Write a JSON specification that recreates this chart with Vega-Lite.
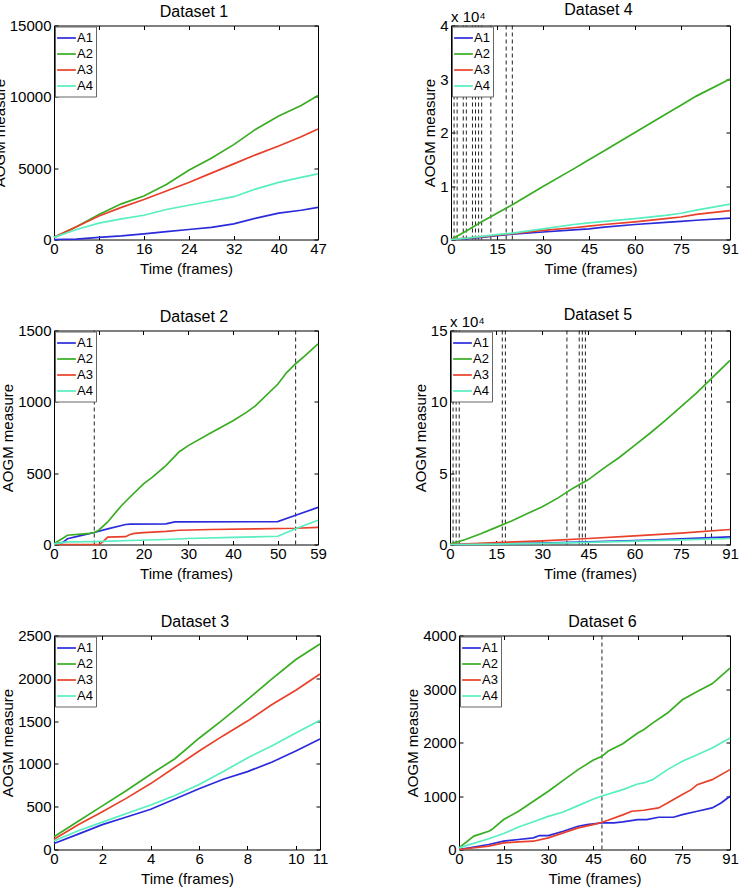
{
  "$schema": "https://vega.github.io/schema/vega-lite/v6.json",
  "padding": {"left": -8, "top": 1.5, "right": 0, "bottom": 0},
  "background": "white",
  "datasets": {
    "d1": [
      {"t":0,"v":0,"s":"A1"},{"t":4,"v":30,"s":"A1"},{"t":8,"v":150,"s":"A1"},{"t":12,"v":250,"s":"A1"},{"t":16,"v":400,"s":"A1"},{"t":20,"v":550,"s":"A1"},{"t":24,"v":700,"s":"A1"},{"t":28,"v":850,"s":"A1"},{"t":32,"v":1100,"s":"A1"},{"t":36,"v":1500,"s":"A1"},{"t":40,"v":1850,"s":"A1"},{"t":44,"v":2050,"s":"A1"},{"t":47,"v":2250,"s":"A1"},
      {"t":0,"v":150,"s":"A2"},{"t":4,"v":900,"s":"A2"},{"t":8,"v":1750,"s":"A2"},{"t":12,"v":2500,"s":"A2"},{"t":16,"v":3050,"s":"A2"},{"t":20,"v":3850,"s":"A2"},{"t":24,"v":4850,"s":"A2"},{"t":28,"v":5700,"s":"A2"},{"t":32,"v":6650,"s":"A2"},{"t":36,"v":7750,"s":"A2"},{"t":40,"v":8650,"s":"A2"},{"t":44,"v":9400,"s":"A2"},{"t":47,"v":10100,"s":"A2"},
      {"t":0,"v":150,"s":"A3"},{"t":4,"v":900,"s":"A3"},{"t":8,"v":1650,"s":"A3"},{"t":12,"v":2250,"s":"A3"},{"t":16,"v":2800,"s":"A3"},{"t":20,"v":3400,"s":"A3"},{"t":24,"v":4000,"s":"A3"},{"t":28,"v":4650,"s":"A3"},{"t":32,"v":5300,"s":"A3"},{"t":36,"v":5950,"s":"A3"},{"t":40,"v":6550,"s":"A3"},{"t":44,"v":7200,"s":"A3"},{"t":47,"v":7750,"s":"A3"},
      {"t":0,"v":150,"s":"A4"},{"t":4,"v":700,"s":"A4"},{"t":8,"v":1150,"s":"A4"},{"t":12,"v":1450,"s":"A4"},{"t":16,"v":1700,"s":"A4"},{"t":20,"v":2100,"s":"A4"},{"t":24,"v":2400,"s":"A4"},{"t":28,"v":2700,"s":"A4"},{"t":32,"v":3000,"s":"A4"},{"t":36,"v":3550,"s":"A4"},{"t":40,"v":4000,"s":"A4"},{"t":44,"v":4350,"s":"A4"},{"t":47,"v":4600,"s":"A4"}
    ],
    "d4": [
      {"t":0,"v":0,"s":"A1"},{"t":5,"v":150,"s":"A1"},{"t":10,"v":400,"s":"A1"},{"t":15,"v":700,"s":"A1"},{"t":20,"v":1000,"s":"A1"},{"t":30,"v":1400,"s":"A1"},{"t":40,"v":1800,"s":"A1"},{"t":45,"v":2000,"s":"A1"},{"t":50,"v":2300,"s":"A1"},{"t":60,"v":2800,"s":"A1"},{"t":70,"v":3200,"s":"A1"},{"t":75,"v":3400,"s":"A1"},{"t":80,"v":3600,"s":"A1"},{"t":91,"v":4000,"s":"A1"},
      {"t":0,"v":0,"s":"A2"},{"t":5,"v":1600,"s":"A2"},{"t":10,"v":3300,"s":"A2"},{"t":15,"v":4900,"s":"A2"},{"t":20,"v":6500,"s":"A2"},{"t":30,"v":9900,"s":"A2"},{"t":40,"v":13200,"s":"A2"},{"t":45,"v":14900,"s":"A2"},{"t":50,"v":16600,"s":"A2"},{"t":60,"v":20000,"s":"A2"},{"t":70,"v":23400,"s":"A2"},{"t":75,"v":25100,"s":"A2"},{"t":80,"v":26800,"s":"A2"},{"t":91,"v":30000,"s":"A2"},
      {"t":0,"v":0,"s":"A3"},{"t":5,"v":250,"s":"A3"},{"t":10,"v":500,"s":"A3"},{"t":15,"v":800,"s":"A3"},{"t":20,"v":1100,"s":"A3"},{"t":30,"v":1700,"s":"A3"},{"t":40,"v":2200,"s":"A3"},{"t":45,"v":2500,"s":"A3"},{"t":50,"v":2800,"s":"A3"},{"t":60,"v":3300,"s":"A3"},{"t":70,"v":3900,"s":"A3"},{"t":75,"v":4200,"s":"A3"},{"t":80,"v":4700,"s":"A3"},{"t":91,"v":5400,"s":"A3"},
      {"t":0,"v":0,"s":"A4"},{"t":5,"v":250,"s":"A4"},{"t":10,"v":600,"s":"A4"},{"t":15,"v":900,"s":"A4"},{"t":20,"v":1200,"s":"A4"},{"t":30,"v":2000,"s":"A4"},{"t":40,"v":2800,"s":"A4"},{"t":45,"v":3100,"s":"A4"},{"t":50,"v":3400,"s":"A4"},{"t":60,"v":3900,"s":"A4"},{"t":70,"v":4500,"s":"A4"},{"t":75,"v":4900,"s":"A4"},{"t":80,"v":5500,"s":"A4"},{"t":91,"v":6600,"s":"A4"}
    ],
    "r4": [{"t":1},{"t":2},{"t":4},{"t":5},{"t":7},{"t":8},{"t":9},{"t":10},{"t":13},{"t":18},{"t":20}],
    "d2": [
      {"t":0,"v":5,"s":"A1"},{"t":2,"v":15,"s":"A1"},{"t":3,"v":40,"s":"A1"},{"t":5,"v":55,"s":"A1"},{"t":9,"v":84,"s":"A1"},{"t":12,"v":110,"s":"A1"},{"t":16,"v":140,"s":"A1"},{"t":17,"v":143,"s":"A1"},{"t":25,"v":145,"s":"A1"},{"t":27,"v":158,"s":"A1"},{"t":50,"v":160,"s":"A1"},{"t":54,"v":205,"s":"A1"},{"t":59,"v":260,"s":"A1"},
      {"t":0,"v":5,"s":"A2"},{"t":3,"v":65,"s":"A2"},{"t":8,"v":78,"s":"A2"},{"t":9,"v":84,"s":"A2"},{"t":10,"v":100,"s":"A2"},{"t":12,"v":158,"s":"A2"},{"t":15,"v":270,"s":"A2"},{"t":17,"v":333,"s":"A2"},{"t":20,"v":425,"s":"A2"},{"t":22,"v":472,"s":"A2"},{"t":25,"v":553,"s":"A2"},{"t":28,"v":650,"s":"A2"},{"t":30,"v":693,"s":"A2"},{"t":35,"v":781,"s":"A2"},{"t":40,"v":867,"s":"A2"},{"t":43,"v":926,"s":"A2"},{"t":45,"v":972,"s":"A2"},{"t":50,"v":1123,"s":"A2"},{"t":52,"v":1205,"s":"A2"},{"t":54,"v":1267,"s":"A2"},{"t":56,"v":1321,"s":"A2"},{"t":59,"v":1407,"s":"A2"},
      {"t":0,"v":5,"s":"A3"},{"t":2,"v":0,"s":"A3"},{"t":10,"v":0,"s":"A3"},{"t":11,"v":20,"s":"A3"},{"t":12,"v":52,"s":"A3"},{"t":16,"v":55,"s":"A3"},{"t":17,"v":70,"s":"A3"},{"t":18,"v":78,"s":"A3"},{"t":20,"v":83,"s":"A3"},{"t":25,"v":92,"s":"A3"},{"t":28,"v":100,"s":"A3"},{"t":35,"v":105,"s":"A3"},{"t":45,"v":110,"s":"A3"},{"t":54,"v":114,"s":"A3"},{"t":59,"v":120,"s":"A3"},
      {"t":0,"v":5,"s":"A4"},{"t":3,"v":18,"s":"A4"},{"t":9,"v":20,"s":"A4"},{"t":17,"v":28,"s":"A4"},{"t":25,"v":35,"s":"A4"},{"t":30,"v":42,"s":"A4"},{"t":40,"v":50,"s":"A4"},{"t":50,"v":58,"s":"A4"},{"t":54,"v":110,"s":"A4"},{"t":59,"v":170,"s":"A4"}
    ],
    "r2": [{"t":9},{"t":54}],
    "d5": [
      {"t":0,"v":0,"s":"A1"},{"t":15,"v":400,"s":"A1"},{"t":30,"v":1000,"s":"A1"},{"t":45,"v":1800,"s":"A1"},{"t":60,"v":2800,"s":"A1"},{"t":75,"v":3900,"s":"A1"},{"t":91,"v":5300,"s":"A1"},
      {"t":0,"v":300,"s":"A2"},{"t":5,"v":3500,"s":"A2"},{"t":10,"v":7500,"s":"A2"},{"t":15,"v":12000,"s":"A2"},{"t":20,"v":16500,"s":"A2"},{"t":25,"v":21500,"s":"A2"},{"t":30,"v":26500,"s":"A2"},{"t":35,"v":32500,"s":"A2"},{"t":40,"v":39500,"s":"A2"},{"t":45,"v":45500,"s":"A2"},{"t":50,"v":53500,"s":"A2"},{"t":55,"v":61000,"s":"A2"},{"t":60,"v":69500,"s":"A2"},{"t":65,"v":78000,"s":"A2"},{"t":70,"v":87000,"s":"A2"},{"t":75,"v":96500,"s":"A2"},{"t":80,"v":106000,"s":"A2"},{"t":85,"v":116500,"s":"A2"},{"t":91,"v":129000,"s":"A2"},
      {"t":0,"v":0,"s":"A3"},{"t":15,"v":1300,"s":"A3"},{"t":30,"v":2600,"s":"A3"},{"t":45,"v":4200,"s":"A3"},{"t":60,"v":6000,"s":"A3"},{"t":75,"v":8000,"s":"A3"},{"t":91,"v":10500,"s":"A3"},
      {"t":0,"v":0,"s":"A4"},{"t":15,"v":300,"s":"A4"},{"t":30,"v":800,"s":"A4"},{"t":45,"v":1500,"s":"A4"},{"t":60,"v":2300,"s":"A4"},{"t":75,"v":3200,"s":"A4"},{"t":91,"v":4200,"s":"A4"}
    ],
    "r5": [{"t":1},{"t":2},{"t":3},{"t":17},{"t":18},{"t":38},{"t":42},{"t":43},{"t":44},{"t":83},{"t":85}],
    "d3": [
      {"t":0,"v":70,"s":"A1"},{"t":1,"v":180,"s":"A1"},{"t":2,"v":290,"s":"A1"},{"t":3,"v":380,"s":"A1"},{"t":4,"v":470,"s":"A1"},{"t":5,"v":590,"s":"A1"},{"t":6,"v":710,"s":"A1"},{"t":7,"v":820,"s":"A1"},{"t":8,"v":910,"s":"A1"},{"t":9,"v":1020,"s":"A1"},{"t":10,"v":1150,"s":"A1"},{"t":11,"v":1290,"s":"A1"},
      {"t":0,"v":150,"s":"A2"},{"t":1,"v":330,"s":"A2"},{"t":2,"v":510,"s":"A2"},{"t":3,"v":690,"s":"A2"},{"t":4,"v":880,"s":"A2"},{"t":5,"v":1060,"s":"A2"},{"t":6,"v":1300,"s":"A2"},{"t":7,"v":1520,"s":"A2"},{"t":8,"v":1750,"s":"A2"},{"t":9,"v":1990,"s":"A2"},{"t":10,"v":2220,"s":"A2"},{"t":11,"v":2400,"s":"A2"},
      {"t":0,"v":120,"s":"A3"},{"t":1,"v":290,"s":"A3"},{"t":2,"v":440,"s":"A3"},{"t":3,"v":600,"s":"A3"},{"t":4,"v":770,"s":"A3"},{"t":5,"v":960,"s":"A3"},{"t":6,"v":1150,"s":"A3"},{"t":7,"v":1330,"s":"A3"},{"t":8,"v":1500,"s":"A3"},{"t":9,"v":1690,"s":"A3"},{"t":10,"v":1860,"s":"A3"},{"t":11,"v":2050,"s":"A3"},
      {"t":0,"v":100,"s":"A4"},{"t":1,"v":220,"s":"A4"},{"t":2,"v":320,"s":"A4"},{"t":3,"v":420,"s":"A4"},{"t":4,"v":520,"s":"A4"},{"t":5,"v":630,"s":"A4"},{"t":6,"v":760,"s":"A4"},{"t":7,"v":910,"s":"A4"},{"t":8,"v":1070,"s":"A4"},{"t":9,"v":1210,"s":"A4"},{"t":10,"v":1360,"s":"A4"},{"t":11,"v":1510,"s":"A4"}
    ],
    "d6": [
      {"t":0,"v":0,"s":"A1"},{"t":10,"v":93,"s":"A1"},{"t":15,"v":155,"s":"A1"},{"t":20,"v":187,"s":"A1"},{"t":25,"v":218,"s":"A1"},{"t":27,"v":261,"s":"A1"},{"t":30,"v":261,"s":"A1"},{"t":35,"v":342,"s":"A1"},{"t":40,"v":435,"s":"A1"},{"t":43,"v":466,"s":"A1"},{"t":48,"v":497,"s":"A1"},{"t":52,"v":497,"s":"A1"},{"t":55,"v":516,"s":"A1"},{"t":60,"v":560,"s":"A1"},{"t":63,"v":560,"s":"A1"},{"t":67,"v":603,"s":"A1"},{"t":72,"v":603,"s":"A1"},{"t":75,"v":653,"s":"A1"},{"t":80,"v":715,"s":"A1"},{"t":85,"v":777,"s":"A1"},{"t":88,"v":870,"s":"A1"},{"t":91,"v":995,"s":"A1"},
      {"t":0,"v":30,"s":"A2"},{"t":5,"v":250,"s":"A2"},{"t":10,"v":342,"s":"A2"},{"t":11,"v":373,"s":"A2"},{"t":15,"v":560,"s":"A2"},{"t":20,"v":715,"s":"A2"},{"t":25,"v":902,"s":"A2"},{"t":30,"v":1088,"s":"A2"},{"t":35,"v":1293,"s":"A2"},{"t":40,"v":1493,"s":"A2"},{"t":45,"v":1667,"s":"A2"},{"t":48,"v":1741,"s":"A2"},{"t":50,"v":1835,"s":"A2"},{"t":55,"v":1978,"s":"A2"},{"t":60,"v":2177,"s":"A2"},{"t":62,"v":2239,"s":"A2"},{"t":65,"v":2363,"s":"A2"},{"t":70,"v":2550,"s":"A2"},{"t":75,"v":2799,"s":"A2"},{"t":80,"v":2954,"s":"A2"},{"t":85,"v":3097,"s":"A2"},{"t":91,"v":3389,"s":"A2"},
      {"t":0,"v":0,"s":"A3"},{"t":10,"v":62,"s":"A3"},{"t":15,"v":124,"s":"A3"},{"t":20,"v":143,"s":"A3"},{"t":25,"v":155,"s":"A3"},{"t":30,"v":218,"s":"A3"},{"t":35,"v":311,"s":"A3"},{"t":40,"v":404,"s":"A3"},{"t":45,"v":466,"s":"A3"},{"t":48,"v":510,"s":"A3"},{"t":50,"v":547,"s":"A3"},{"t":55,"v":647,"s":"A3"},{"t":58,"v":715,"s":"A3"},{"t":62,"v":734,"s":"A3"},{"t":67,"v":777,"s":"A3"},{"t":70,"v":870,"s":"A3"},{"t":75,"v":1026,"s":"A3"},{"t":78,"v":1119,"s":"A3"},{"t":80,"v":1212,"s":"A3"},{"t":85,"v":1306,"s":"A3"},{"t":91,"v":1493,"s":"A3"},
      {"t":0,"v":30,"s":"A4"},{"t":10,"v":200,"s":"A4"},{"t":15,"v":300,"s":"A4"},{"t":20,"v":420,"s":"A4"},{"t":25,"v":520,"s":"A4"},{"t":30,"v":620,"s":"A4"},{"t":35,"v":700,"s":"A4"},{"t":40,"v":820,"s":"A4"},{"t":45,"v":940,"s":"A4"},{"t":48,"v":1000,"s":"A4"},{"t":55,"v":1119,"s":"A4"},{"t":60,"v":1225,"s":"A4"},{"t":62,"v":1244,"s":"A4"},{"t":65,"v":1306,"s":"A4"},{"t":70,"v":1493,"s":"A4"},{"t":75,"v":1648,"s":"A4"},{"t":80,"v":1772,"s":"A4"},{"t":85,"v":1897,"s":"A4"},{"t":91,"v":2083,"s":"A4"}
    ],
    "r6": [{"t":48}]
  },
  "vconcat": [
    {
      "hconcat": [
        {
          "width": 264, "height": 214,
          "title": {"text": "Dataset 1"},
          "layer": [
            {"data": {"name": "d1"}, "mark": {"type": "line", "strokeWidth": 1.7},
             "encoding": {
               "x": {"field": "t", "type": "quantitative", "scale": {"domain": [0, 47], "nice": false}, "axis": {"values": [0, 8, 16, 24, 32, 40, 47], "title": "Time (frames)"}},
               "y": {"field": "v", "type": "quantitative", "scale": {"domain": [0, 15000], "nice": false}, "axis": {"values": [0, 5000, 10000, 15000], "format": "d", "title": "AOGM measure"}},
               "color": {"field": "s", "type": "nominal", "scale": {"domain": ["A1", "A2", "A3", "A4"], "range": ["#2b2bdc", "#38ad22", "#e8402a", "#57eec0"]}, "legend": {"title": null}}
             }},
            {"data": {"name": "d1"}, "mark": {"type": "point", "opacity": 0},
             "encoding": {
               "x": {"field": "t", "type": "quantitative", "axis": {"orient": "top", "values": [0, 8, 16, 24, 32, 40, 47], "labels": false, "title": null}},
               "y": {"field": "v", "type": "quantitative", "axis": {"orient": "right", "values": [0, 5000, 10000, 15000], "labels": false, "title": null}}
             }}
          ],
          "resolve": {"axis": {"x": "independent", "y": "independent"}}
        },
        {
          "width": 279, "height": 214,
          "title": {"text": "Dataset 4", "offset": -8},
          "layer": [
            {"data": {"name": "r4"}, "mark": {"type": "rule", "strokeDash": [4, 3], "color": "#222", "strokeWidth": 1},
             "encoding": {"x": {"field": "t", "type": "quantitative", "axis": null}}},
            {"data": {"name": "d4"}, "mark": {"type": "line", "strokeWidth": 1.7},
             "encoding": {
               "x": {"field": "t", "type": "quantitative", "scale": {"domain": [0, 91], "nice": false}, "axis": {"values": [0, 15, 30, 45, 60, 75, 91], "title": "Time (frames)"}},
               "y": {"field": "v", "type": "quantitative", "scale": {"domain": [0, 40000], "nice": false}, "axis": {"values": [0, 10000, 20000, 30000, 40000], "labelExpr": "format(datum.value / 10000, 'd')", "title": "AOGM measure"}},
               "color": {"field": "s", "type": "nominal", "scale": {"domain": ["A1", "A2", "A3", "A4"], "range": ["#2b2bdc", "#38ad22", "#e8402a", "#57eec0"]}, "legend": {"title": null}}
             }},
            {"data": {"name": "d4"}, "mark": {"type": "point", "opacity": 0},
             "encoding": {
               "x": {"field": "t", "type": "quantitative", "axis": {"orient": "top", "values": [0, 15, 30, 45, 60, 75, 91], "labels": false, "title": null}},
               "y": {"field": "v", "type": "quantitative", "axis": {"orient": "right", "values": [0, 10000, 20000, 30000, 40000], "labels": false, "title": null}}
             }},
            {"data": {"values": [{}]}, "mark": {"type": "text", "text": "x 10⁴", "align": "left", "baseline": "alphabetic", "dy": -4, "fontSize": 15, "font": "Liberation Sans", "color": "#000"},
             "encoding": {"x": {"datum": 0, "type": "quantitative", "axis": null}, "y": {"datum": 40000, "type": "quantitative", "axis": null}}}
          ],
          "resolve": {"axis": {"x": "independent", "y": "independent"}}
        }
      ],
      "spacing": 133,
      "bounds": "flush",
      "resolve": {"scale": {"x": "independent", "y": "independent", "color": "independent"}}
    },
    {
      "hconcat": [
        {
          "width": 264, "height": 214,
          "title": {"text": "Dataset 2"},
          "layer": [
            {"data": {"name": "r2"}, "mark": {"type": "rule", "strokeDash": [4, 3], "color": "#222", "strokeWidth": 1},
             "encoding": {"x": {"field": "t", "type": "quantitative", "axis": null}}},
            {"data": {"name": "d2"}, "mark": {"type": "line", "strokeWidth": 1.7},
             "encoding": {
               "x": {"field": "t", "type": "quantitative", "scale": {"domain": [0, 59], "nice": false}, "axis": {"values": [0, 10, 20, 30, 40, 50, 59], "title": "Time (frames)"}},
               "y": {"field": "v", "type": "quantitative", "scale": {"domain": [0, 1500], "nice": false}, "axis": {"values": [0, 500, 1000, 1500], "format": "d", "title": "AOGM measure"}},
               "color": {"field": "s", "type": "nominal", "scale": {"domain": ["A1", "A2", "A3", "A4"], "range": ["#2b2bdc", "#38ad22", "#e8402a", "#57eec0"]}, "legend": {"title": null}}
             }},
            {"data": {"name": "d2"}, "mark": {"type": "point", "opacity": 0},
             "encoding": {
               "x": {"field": "t", "type": "quantitative", "axis": {"orient": "top", "values": [0, 10, 20, 30, 40, 50, 59], "labels": false, "title": null}},
               "y": {"field": "v", "type": "quantitative", "axis": {"orient": "right", "values": [0, 500, 1000, 1500], "labels": false, "title": null}}
             }}
          ],
          "resolve": {"axis": {"x": "independent", "y": "independent"}}
        },
        {
          "width": 280, "height": 214,
          "title": {"text": "Dataset 5", "offset": -8},
          "layer": [
            {"data": {"name": "r5"}, "mark": {"type": "rule", "strokeDash": [4, 3], "color": "#222", "strokeWidth": 1},
             "encoding": {"x": {"field": "t", "type": "quantitative", "axis": null}}},
            {"data": {"name": "d5"}, "mark": {"type": "line", "strokeWidth": 1.7},
             "encoding": {
               "x": {"field": "t", "type": "quantitative", "scale": {"domain": [0, 91], "nice": false}, "axis": {"values": [0, 15, 30, 45, 60, 75, 91], "title": "Time (frames)"}},
               "y": {"field": "v", "type": "quantitative", "scale": {"domain": [0, 150000], "nice": false}, "axis": {"values": [0, 50000, 100000, 150000], "labelExpr": "format(datum.value / 10000, 'd')", "title": "AOGM measure"}},
               "color": {"field": "s", "type": "nominal", "scale": {"domain": ["A1", "A2", "A3", "A4"], "range": ["#2b2bdc", "#38ad22", "#e8402a", "#57eec0"]}, "legend": {"title": null}}
             }},
            {"data": {"name": "d5"}, "mark": {"type": "point", "opacity": 0},
             "encoding": {
               "x": {"field": "t", "type": "quantitative", "axis": {"orient": "top", "values": [0, 15, 30, 45, 60, 75, 91], "labels": false, "title": null}},
               "y": {"field": "v", "type": "quantitative", "axis": {"orient": "right", "values": [0, 50000, 100000, 150000], "labels": false, "title": null}}
             }},
            {"data": {"values": [{}]}, "mark": {"type": "text", "text": "x 10⁴", "align": "left", "baseline": "alphabetic", "dy": -4, "fontSize": 15, "font": "Liberation Sans", "color": "#000"},
             "encoding": {"x": {"datum": 0, "type": "quantitative", "axis": null}, "y": {"datum": 150000, "type": "quantitative", "axis": null}}}
          ],
          "resolve": {"axis": {"x": "independent", "y": "independent"}}
        }
      ],
      "spacing": 132,
      "bounds": "flush",
      "resolve": {"scale": {"x": "independent", "y": "independent", "color": "independent"}}
    },
    {
      "hconcat": [
        {
          "width": 266, "height": 214,
          "title": {"text": "Dataset 3"},
          "layer": [
            {"data": {"name": "d3"}, "mark": {"type": "line", "strokeWidth": 1.7},
             "encoding": {
               "x": {"field": "t", "type": "quantitative", "scale": {"domain": [0, 11], "nice": false}, "axis": {"values": [0, 2, 4, 6, 8, 10, 11], "title": "Time (frames)"}},
               "y": {"field": "v", "type": "quantitative", "scale": {"domain": [0, 2500], "nice": false}, "axis": {"values": [0, 500, 1000, 1500, 2000, 2500], "format": "d", "title": "AOGM measure"}},
               "color": {"field": "s", "type": "nominal", "scale": {"domain": ["A1", "A2", "A3", "A4"], "range": ["#2b2bdc", "#38ad22", "#e8402a", "#57eec0"]}, "legend": {"title": null}}
             }},
            {"data": {"name": "d3"}, "mark": {"type": "point", "opacity": 0},
             "encoding": {
               "x": {"field": "t", "type": "quantitative", "axis": {"orient": "top", "values": [0, 2, 4, 6, 8, 10, 11], "labels": false, "title": null}},
               "y": {"field": "v", "type": "quantitative", "axis": {"orient": "right", "values": [0, 500, 1000, 1500, 2000, 2500], "labels": false, "title": null}}
             }}
          ],
          "resolve": {"axis": {"x": "independent", "y": "independent"}}
        },
        {
          "width": 271, "height": 214,
          "title": {"text": "Dataset 6"},
          "layer": [
            {"data": {"name": "r6"}, "mark": {"type": "rule", "strokeDash": [4, 3], "color": "#222", "strokeWidth": 1},
             "encoding": {"x": {"field": "t", "type": "quantitative", "axis": null}}},
            {"data": {"name": "d6"}, "mark": {"type": "line", "strokeWidth": 1.7},
             "encoding": {
               "x": {"field": "t", "type": "quantitative", "scale": {"domain": [0, 91], "nice": false}, "axis": {"values": [0, 15, 30, 45, 60, 75, 91], "title": "Time (frames)"}},
               "y": {"field": "v", "type": "quantitative", "scale": {"domain": [0, 4000], "nice": false}, "axis": {"values": [0, 1000, 2000, 3000, 4000], "format": "d", "title": "AOGM measure"}},
               "color": {"field": "s", "type": "nominal", "scale": {"domain": ["A1", "A2", "A3", "A4"], "range": ["#2b2bdc", "#38ad22", "#e8402a", "#57eec0"]}, "legend": {"title": null}}
             }},
            {"data": {"name": "d6"}, "mark": {"type": "point", "opacity": 0},
             "encoding": {
               "x": {"field": "t", "type": "quantitative", "axis": {"orient": "top", "values": [0, 15, 30, 45, 60, 75, 91], "labels": false, "title": null}},
               "y": {"field": "v", "type": "quantitative", "axis": {"orient": "right", "values": [0, 1000, 2000, 3000, 4000], "labels": false, "title": null}}
             }}
          ],
          "resolve": {"axis": {"x": "independent", "y": "independent"}}
        }
      ],
      "spacing": 139,
      "bounds": "flush",
      "resolve": {"scale": {"x": "independent", "y": "independent", "color": "independent"}}
    }
  ],
  "spacing": 305,
  "bounds": "flush",
  "resolve": {"scale": {"x": "independent", "y": "independent", "color": "independent"}},
  "config": {
    "font": "Liberation Sans",
    "view": {"stroke": null},
    "axis": {
      "domainColor": "#000", "domainWidth": 1, "tickColor": "#000", "tickSize": -4, "tickWidth": 1,
      "labelFont": "Liberation Sans", "labelFontSize": 15, "labelColor": "#000", "labelFlush": false, "labelOverlap": false,
      "titleFont": "Liberation Sans", "titleFontSize": 15, "titleFontWeight": "normal", "titleColor": "#000", "grid": false
    },
    "axisX": {"labelPadding": 6, "titlePadding": 5},
    "axisY": {"labelPadding": 7, "titlePadding": 2},
    "legend": {
      "orient": "top-left", "offset": 1, "padding": 3, "strokeColor": "#666", "fillColor": "#fff",
      "symbolType": "M-1.25,0H1.25", "symbolSize": 225, "symbolStrokeWidth": 1.7,
      "labelFont": "Liberation Sans", "labelFontSize": 13, "labelColor": "#000", "labelOffset": 2, "rowPadding": 0
    },
    "title": {"font": "Liberation Sans", "fontSize": 16, "fontWeight": "normal", "color": "#000", "offset": -1.2, "anchor": "middle", "frame": "group", "dx": 8}
  }
}
